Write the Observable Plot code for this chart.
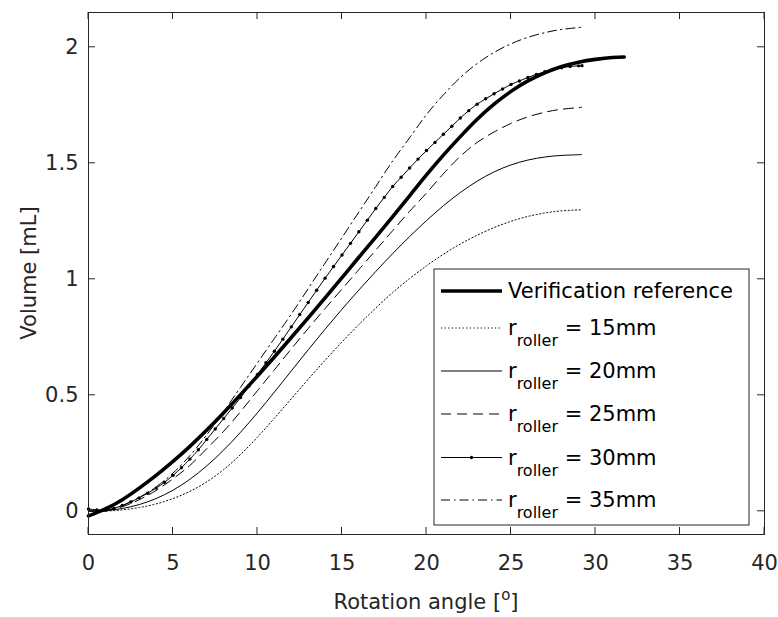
<!DOCTYPE html>
<html><head><meta charset="utf-8">
<script src="https://cdn.jsdelivr.net/npm/d3@7"></script>
<script src="https://cdn.jsdelivr.net/npm/@observablehq/plot@0.6"></script>
<style>
body{margin:0;background:#fff}
#chart svg{font-family:"DejaVu Sans",sans-serif}
</style>
</head><body><div id="chart"></div>
<script>
// ---- data ----
const xTicks = [0, 5, 10, 15, 20, 25, 30, 35, 40];
const yTicks = [0, 0.5, 1, 1.5, 2];

const refAngle  = [0,1,2,3,4,5,6,7,8,9,10,11,12,13,14,15,16,17,18,19,20,21,22,23,24,25,26,27,28,29,30,31,31.7];
const refVolume = [-0.02,0.01,0.05,0.10,0.155,0.215,0.28,0.35,0.425,0.503,0.583,0.665,0.749,0.834,0.92,1.007,1.095,1.182,1.27,1.36,1.45,1.535,1.615,1.69,1.755,1.81,1.855,1.89,1.917,1.936,1.948,1.956,1.958];

const rollerAngle = [0,1,2,3,4,5,6,7,8,9,10,11,12,13,14,15,16,17,18,19,20,21,22,23,24,25,26,27,28,29,29.2];
const v15 = [0,0.001,0.006,0.016,0.032,0.055,0.086,0.127,0.18,0.245,0.32,0.401,0.485,0.569,0.651,0.73,0.805,0.876,0.943,1.003,1.058,1.108,1.152,1.19,1.223,1.25,1.271,1.286,1.295,1.299,1.30];
const v20 = [0,0.003,0.012,0.029,0.055,0.091,0.138,0.196,0.264,0.341,0.425,0.514,0.605,0.696,0.785,0.871,0.954,1.034,1.111,1.184,1.253,1.317,1.374,1.423,1.463,1.493,1.514,1.527,1.534,1.537,1.538];
const v25 = [0,0.004,0.02,0.05,0.09,0.14,0.198,0.27,0.345,0.43,0.52,0.61,0.70,0.788,0.874,0.958,1.042,1.126,1.21,1.293,1.372,1.455,1.53,1.59,1.635,1.672,1.70,1.72,1.733,1.74,1.742];
const v35 = [0.005,0.004,0.025,0.06,0.105,0.165,0.24,0.33,0.43,0.535,0.64,0.745,0.85,0.96,1.07,1.18,1.29,1.40,1.51,1.61,1.71,1.795,1.87,1.93,1.978,2.015,2.043,2.063,2.077,2.085,2.087];

const angle30 = [0,0.5,1,1.5,2,2.5,3,3.5,4,4.5,5,5.5,6,6.5,7,7.5,8,8.5,9,9.5,10,10.5,11,11.5,12,12.5,13,13.5,14,14.5,15,15.5,16,16.5,17,17.5,18,18.5,19,19.5,20,20.5,21,21.5,22,22.5,23,23.5,24,24.5,25,25.5,26,26.5,27,27.5,28,28.5,29,29.2];
const v30 = [0.010,0.006,0.004,0.012,0.025,0.04,0.058,0.078,0.10,0.125,0.155,0.188,0.225,0.265,0.31,0.355,0.40,0.445,0.49,0.54,0.59,0.64,0.69,0.742,0.795,0.848,0.90,0.953,1.005,1.055,1.105,1.155,1.205,1.255,1.305,1.353,1.40,1.44,1.48,1.518,1.555,1.59,1.625,1.66,1.695,1.727,1.755,1.778,1.80,1.82,1.84,1.855,1.87,1.883,1.895,1.904,1.912,1.917,1.92,1.921];

const seriesNames = ["Verification reference", "15mm", "20mm", "25mm", "30mm", "35mm"];

// ---- table built from the arrays ----
const toRows = (name, xs, ys) => xs.map((x, i) => ({series: name, angle: x, volume: ys[i]}));
const rowsRef = toRows(seriesNames[0], refAngle, refVolume);
const rows15 = toRows(seriesNames[1], rollerAngle, v15);
const rows20 = toRows(seriesNames[2], rollerAngle, v20);
const rows25 = toRows(seriesNames[3], rollerAngle, v25);
const rows30 = toRows(seriesNames[4], angle30, v30);
const rows35 = toRows(seriesNames[5], rollerAngle, v35);

const styles = {
  "Verification reference": {strokeWidth: 3.6, strokeDasharray: null},
  "15mm": {strokeWidth: 1, strokeDasharray: "1.2,2.4"},
  "20mm": {strokeWidth: 1, strokeDasharray: null},
  "25mm": {strokeWidth: 1, strokeDasharray: "10,6"},
  "30mm": {strokeWidth: 1, strokeDasharray: null},
  "35mm": {strokeWidth: 1, strokeDasharray: "9,4,1.5,4"}
};
const lineFor = (rows, name) => Plot.line(rows, {
  x: "angle", y: "volume", stroke: "black", curve: "natural",
  strokeWidth: styles[name].strokeWidth,
  strokeDasharray: styles[name].strokeDasharray || undefined
});

const axisColor = "#262626";
const plot = Plot.plot({
  width: 778, height: 617,
  marginLeft: 88, marginRight: 14, marginTop: 12, marginBottom: 83,
  style: {fontSize: "21px", color: axisColor, background: "white"},
  x: {domain: [0, 40]},
  y: {domain: [-0.1, 2.15]},
  marks: [
    lineFor(rowsRef, seriesNames[0]),
    lineFor(rows15, seriesNames[1]),
    lineFor(rows20, seriesNames[2]),
    lineFor(rows25, seriesNames[3]),
    lineFor(rows30, seriesNames[4]),
    Plot.dot(rows30, {x: "angle", y: "volume", r: 1.7, fill: "black", stroke: null}),
    lineFor(rows35, seriesNames[5]),
    Plot.axisX({ticks: xTicks, tickSize: 0, tickPadding: 21, label: null, tickFormat: d => String(d), fill: axisColor}),
    Plot.axisY({ticks: yTicks, tickSize: 0, tickPadding: 10, label: null, tickFormat: d => String(d), fill: axisColor}),
    Plot.frame({stroke: axisColor, strokeWidth: 1})
  ]
});
document.getElementById("chart").appendChild(plot);

// ---- inward ticks on all four sides, using the plot's scales ----
const svg = d3.select(plot);
const sx = plot.scale("x"), sy = plot.scale("y");
const [r0, r1] = sx.range; const [yb, yt] = sy.range;
const tickLen = 7;
const tg = svg.append("g").attr("stroke", axisColor).attr("stroke-width", 1);
xTicks.forEach(t => {
  const px = sx.apply(t);
  tg.append("line").attr("x1", px).attr("x2", px).attr("y1", yb).attr("y2", yb - tickLen);
  tg.append("line").attr("x1", px).attr("x2", px).attr("y1", yt).attr("y2", yt + tickLen);
});
yTicks.forEach(t => {
  const py = sy.apply(t);
  tg.append("line").attr("x1", r0).attr("x2", r0 + tickLen).attr("y1", py).attr("y2", py);
  tg.append("line").attr("x1", r1).attr("x2", r1 - tickLen).attr("y1", py).attr("y2", py);
});

// ---- axis titles ----
const xl = svg.append("text").attr("x", (r0 + r1) / 2).attr("y", 609)
  .attr("text-anchor", "middle").attr("font-size", 21).attr("fill", axisColor);
xl.append("tspan").text("Rotation angle [");
xl.append("tspan").attr("font-size", 15).attr("dy", -9).text("o");
xl.append("tspan").attr("dy", 9).text("]");

svg.append("text").attr("transform", `translate(36,${(yb + yt) / 2}) rotate(-90)`)
  .attr("text-anchor", "middle").attr("font-size", 21).attr("fill", axisColor)
  .text("Volume [mL]");

// ---- legend ----
const lg = svg.append("g");
lg.append("rect").attr("x", 434).attr("y", 269).attr("width", 315).attr("height", 256)
  .attr("fill", "white").attr("stroke", axisColor).attr("stroke-width", 1);
const rowY = [291, 328, 371, 414, 457.5, 500];
seriesNames.forEach((name, i) => {
  const y = rowY[i];
  const st = styles[name];
  lg.append("line").attr("x1", 441).attr("x2", 502).attr("y1", y).attr("y2", y)
    .attr("stroke", "black").attr("stroke-width", st.strokeWidth)
    .attr("stroke-dasharray", st.strokeDasharray);
  if (name === "30mm") lg.append("circle").attr("cx", 471.5).attr("cy", y).attr("r", 1.7).attr("fill", "black");
  const t = lg.append("text").attr("x", 508).attr("y", y).attr("dy", "0.35em")
    .attr("text-anchor", "start").attr("font-size", 21).attr("fill", "black");
  if (i === 0) {
    t.text(name);
  } else {
    t.append("tspan").text("r");
    t.append("tspan").attr("font-size", 16).attr("dy", 11).text("roller");
    t.append("tspan").attr("dy", -11).text(" = " + name);
  }
});
</script>
</body></html>
